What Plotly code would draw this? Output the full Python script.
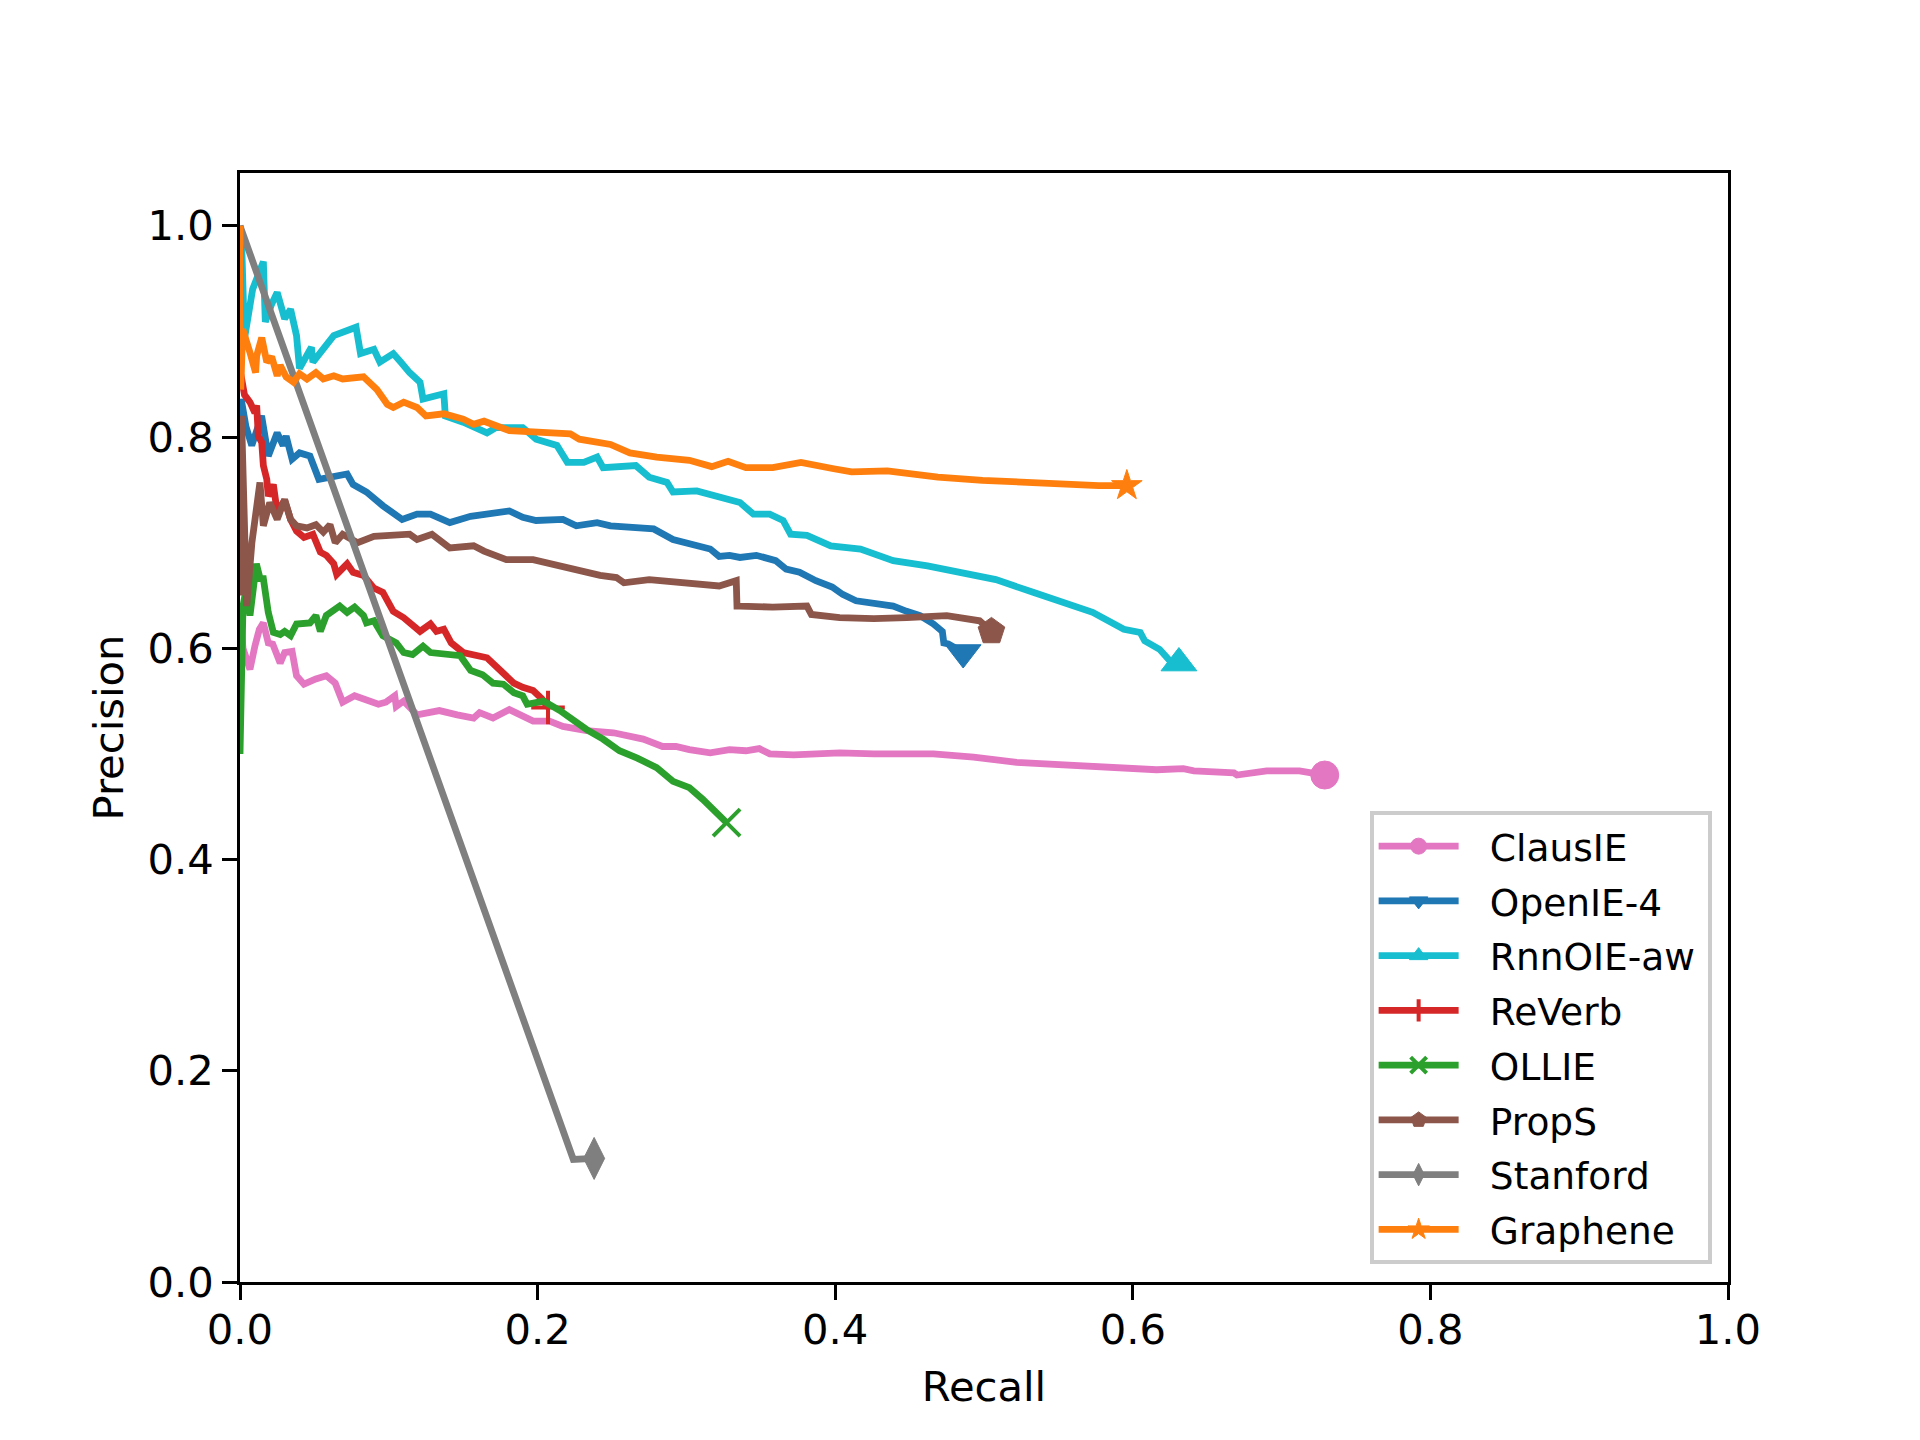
import plotly.graph_objects as go

# ---------------- data ----------------
series_names = ["ClausIE", "OpenIE-4", "RnnOIE-aw", "ReVerb", "OLLIE", "PropS", "Stanford", "Graphene"]

clausie_recall = [0.0, 0.0005, 0.002, 0.0045, 0.0067, 0.010, 0.013, 0.0157, 0.019, 0.022, 0.027, 0.030,
                  0.035, 0.038, 0.043, 0.051, 0.058, 0.064, 0.069, 0.077, 0.087, 0.093, 0.098, 0.104,
                  0.105, 0.110, 0.119, 0.134, 0.146, 0.157, 0.161, 0.170, 0.181, 0.197, 0.208, 0.217,
                  0.233, 0.251, 0.271, 0.284, 0.293, 0.302, 0.316, 0.329, 0.340, 0.349, 0.356, 0.372,
                  0.403, 0.426, 0.466, 0.493, 0.522, 0.549, 0.578, 0.582, 0.616, 0.634, 0.641, 0.668,
                  0.670, 0.690, 0.712, 0.729]
clausie_precision = [0.600, 0.628, 0.600, 0.590, 0.580, 0.602, 0.618, 0.624, 0.605, 0.604, 0.586, 0.596,
                     0.597, 0.574, 0.566, 0.571, 0.574, 0.567, 0.549, 0.555, 0.550, 0.547, 0.549, 0.555,
                     0.545, 0.550, 0.537, 0.541, 0.537, 0.534, 0.539, 0.534, 0.542, 0.531, 0.531, 0.526,
                     0.522, 0.520, 0.514, 0.507, 0.507, 0.504, 0.501, 0.504, 0.503, 0.505, 0.500, 0.499,
                     0.501, 0.500, 0.500, 0.497, 0.492, 0.490, 0.488, 0.487, 0.485, 0.486, 0.484, 0.482,
                     0.480, 0.484, 0.484, 0.480]

openie_recall = [0.0, 0.0008, 0.004, 0.0079, 0.0145, 0.019, 0.025, 0.029, 0.031, 0.035, 0.040, 0.047,
                 0.053, 0.0605, 0.072, 0.076, 0.085, 0.096, 0.109, 0.119, 0.128, 0.141, 0.155, 0.181,
                 0.190, 0.199, 0.217, 0.226, 0.240, 0.249, 0.278, 0.291, 0.316, 0.322, 0.329, 0.336,
                 0.347, 0.360, 0.367, 0.376, 0.387, 0.398, 0.405, 0.414, 0.426, 0.439, 0.448, 0.457,
                 0.466, 0.472, 0.473, 0.476, 0.486]
openie_precision = [0.800, 0.836, 0.810, 0.792, 0.820, 0.782, 0.804, 0.792, 0.801, 0.779, 0.785, 0.782,
                    0.760, 0.762, 0.765, 0.755, 0.748, 0.735, 0.722, 0.727, 0.727, 0.719, 0.725, 0.730,
                    0.724, 0.721, 0.722, 0.716, 0.719, 0.716, 0.713, 0.703, 0.694, 0.687, 0.688, 0.686,
                    0.688, 0.683, 0.675, 0.672, 0.664, 0.658, 0.651, 0.645, 0.642, 0.640, 0.635, 0.631,
                    0.623, 0.616, 0.605, 0.604, 0.596]

rnnoie_recall = [0.0, 0.001, 0.003, 0.0085, 0.0157, 0.017, 0.021, 0.025, 0.030, 0.034, 0.038, 0.040,
                 0.048, 0.049, 0.063, 0.072, 0.078, 0.081, 0.090, 0.094, 0.103, 0.108, 0.114, 0.121,
                 0.123, 0.137, 0.138, 0.150, 0.166, 0.172, 0.190, 0.199, 0.213, 0.220, 0.231, 0.240,
                 0.244, 0.266, 0.275, 0.287, 0.291, 0.307, 0.327, 0.336, 0.345, 0.356, 0.365, 0.370,
                 0.381, 0.397, 0.417, 0.426, 0.439, 0.462, 0.470, 0.493, 0.508, 0.533, 0.549, 0.560,
                 0.573, 0.594, 0.605, 0.608, 0.618, 0.625, 0.631]
rnnoie_precision = [1.000, 0.990, 0.893, 0.940, 0.966, 0.909, 0.925, 0.937, 0.912, 0.921, 0.896, 0.865,
                    0.885, 0.871, 0.896, 0.901, 0.904, 0.879, 0.883, 0.871, 0.879, 0.871, 0.861, 0.852,
                    0.836, 0.841, 0.820, 0.814, 0.804, 0.809, 0.809, 0.798, 0.792, 0.776, 0.776, 0.781,
                    0.771, 0.773, 0.762, 0.757, 0.748, 0.749, 0.741, 0.738, 0.727, 0.727, 0.721, 0.708,
                    0.707, 0.697, 0.694, 0.689, 0.683, 0.678, 0.676, 0.669, 0.665, 0.653, 0.645, 0.639,
                    0.634, 0.618, 0.615, 0.607, 0.599, 0.588, 0.586]

reverb_recall = [0.0, 0.0005, 0.003, 0.0067, 0.010, 0.0112, 0.0123, 0.0146, 0.0157, 0.018, 0.019, 0.0224,
                 0.025, 0.030, 0.034, 0.038, 0.043, 0.049, 0.054, 0.058, 0.063, 0.065, 0.072, 0.076,
                 0.083, 0.090, 0.096, 0.103, 0.110, 0.116, 0.121, 0.128, 0.132, 0.137, 0.142, 0.150,
                 0.159, 0.166, 0.172, 0.179, 0.184, 0.190, 0.197, 0.203, 0.207]
reverb_precision = [1.000, 0.860, 0.840, 0.833, 0.823, 0.830, 0.801, 0.795, 0.773, 0.760, 0.744, 0.755,
                    0.729, 0.740, 0.722, 0.711, 0.705, 0.708, 0.691, 0.688, 0.680, 0.670, 0.680, 0.672,
                    0.669, 0.657, 0.653, 0.635, 0.629, 0.621, 0.616, 0.623, 0.616, 0.618, 0.605, 0.596,
                    0.593, 0.591, 0.583, 0.574, 0.567, 0.563, 0.560, 0.552, 0.544]

ollie_recall = [0.0, 0.001, 0.002, 0.004, 0.0067, 0.011, 0.0135, 0.0157, 0.019, 0.0224, 0.027, 0.030,
                0.034, 0.038, 0.047, 0.051, 0.054, 0.058, 0.067, 0.072, 0.077, 0.083, 0.085, 0.090,
                0.096, 0.105, 0.110, 0.116, 0.123, 0.128, 0.137, 0.148, 0.155, 0.163, 0.170, 0.177,
                0.184, 0.190, 0.193, 0.204, 0.215, 0.226, 0.233, 0.244, 0.255, 0.267, 0.280, 0.291,
                0.302, 0.311, 0.320, 0.327]
ollie_precision = [0.500, 0.580, 0.640, 0.655, 0.631, 0.680, 0.666, 0.666, 0.634, 0.615, 0.613, 0.616,
                   0.612, 0.623, 0.624, 0.631, 0.616, 0.631, 0.640, 0.634, 0.639, 0.631, 0.624, 0.626,
                   0.612, 0.605, 0.596, 0.594, 0.602, 0.596, 0.594, 0.593, 0.579, 0.575, 0.567, 0.566,
                   0.558, 0.555, 0.547, 0.550, 0.541, 0.530, 0.523, 0.514, 0.503, 0.496, 0.487, 0.474,
                   0.468, 0.457, 0.444, 0.435]

props_recall = [0.0, 0.001, 0.0045, 0.008, 0.0134, 0.0157, 0.020, 0.025, 0.030, 0.034, 0.038, 0.045,
                0.051, 0.056, 0.0605, 0.064, 0.069, 0.079, 0.090, 0.114, 0.119, 0.129, 0.141, 0.157,
                0.164, 0.179, 0.197, 0.208, 0.224, 0.242, 0.253, 0.258, 0.275, 0.302, 0.322, 0.3335,
                0.334, 0.336, 0.358, 0.381, 0.384, 0.403, 0.426, 0.448, 0.475, 0.497, 0.505]
props_precision = [0.650, 0.820, 0.640, 0.700, 0.757, 0.716, 0.738, 0.722, 0.741, 0.722, 0.716, 0.714,
                   0.717, 0.710, 0.717, 0.700, 0.708, 0.700, 0.706, 0.708, 0.703, 0.708, 0.695, 0.697,
                   0.692, 0.684, 0.684, 0.680, 0.675, 0.669, 0.667, 0.662, 0.665, 0.661, 0.659, 0.664,
                   0.640, 0.640, 0.639, 0.640, 0.632, 0.629, 0.628, 0.629, 0.631, 0.626, 0.616]

stanford_recall = [0.0, 0.224, 0.238]
stanford_precision = [1.000, 0.116, 0.117]

graphene_recall = [0.0, 0.0005, 0.0018, 0.0045, 0.0067, 0.0105, 0.0112, 0.0146, 0.018, 0.0213, 0.025, 0.027,
                   0.031, 0.036, 0.040, 0.045, 0.051, 0.056, 0.063, 0.069, 0.083, 0.092, 0.099, 0.103,
                   0.110, 0.119, 0.125, 0.137, 0.150, 0.157, 0.164, 0.181, 0.222, 0.228, 0.249, 0.262,
                   0.280, 0.302, 0.317, 0.328, 0.340, 0.358, 0.377, 0.399, 0.411, 0.435, 0.469, 0.499,
                   0.525, 0.546, 0.577, 0.596]
graphene_precision = [1.000, 0.845, 0.902, 0.887, 0.880, 0.861, 0.877, 0.894, 0.871, 0.876, 0.858, 0.868,
                      0.857, 0.852, 0.860, 0.855, 0.861, 0.855, 0.858, 0.855, 0.857, 0.845, 0.831, 0.828,
                      0.833, 0.828, 0.820, 0.822, 0.817, 0.812, 0.815, 0.806, 0.803, 0.798, 0.793, 0.785,
                      0.781, 0.778, 0.772, 0.777, 0.771, 0.771, 0.776, 0.770, 0.767, 0.768, 0.762, 0.759,
                      0.757, 0.756, 0.754, 0.754]

x_ticks = [0.0, 0.2, 0.4, 0.6, 0.8, 1.0]
y_ticks = [0.0, 0.2, 0.4, 0.6, 0.8, 1.0]
tick_labels = ["0.0", "0.2", "0.4", "0.6", "0.8", "1.0"]

# ---------------- styling ----------------
recalls = [clausie_recall, openie_recall, rnnoie_recall, reverb_recall, ollie_recall,
           props_recall, stanford_recall, graphene_recall]
precisions = [clausie_precision, openie_precision, rnnoie_precision, reverb_precision, ollie_precision,
              props_precision, stanford_precision, graphene_precision]
colors = ["#e377c2", "#1f77b4", "#17becf", "#d62728", "#2ca02c", "#8c564b", "#7f7f7f", "#ff7f0e"]
symbols = ["circle", "triangle-down", "triangle-up", "cross-thin", "x-thin", "pentagon", "diamond-tall", "star"]
sizes = [28, 31, 31, 24, 27, 28, 30, 23]

FONT = "DejaVu Sans"
FS = 41.7
LEG_FS = 37.5
LW = 6.8
GAP_BEFORE = "\u2002\u2009"  # space between legend symbol and label
GAP_AFTER = "\u2009"

fig = go.Figure()
for name, xs, ys, c, sym, sz in zip(series_names, recalls, precisions, colors, symbols, sizes):
    fig.add_trace(go.Scatter(x=xs, y=ys, mode="lines", line=dict(color=c, width=LW),
                             showlegend=False, legendgroup=name, hoverinfo="skip"))
    thin = sym.endswith("-thin")
    fig.add_trace(go.Scatter(
        x=xs[-1:], y=ys[-1:], mode="lines+markers", name=GAP_BEFORE + name + GAP_AFTER,
        legendgroup=name,
        line=dict(color=c, width=LW),
        marker=dict(symbol=sym, size=sz, color=c,
                    line=dict(color=c, width=4 if thin else 1)),
    ))

axis_common = dict(
    showgrid=False, zeroline=False, showline=True, linecolor="black", linewidth=3.3,
    mirror=True, ticks="outside", ticklen=14.6, tickwidth=3.3, tickcolor="black",
    tickfont=dict(family=FONT, size=FS, color="black"),
)

fig.update_layout(
    width=1920, height=1440,
    margin=dict(l=240, r=192, t=173, b=158),
    paper_bgcolor="white", plot_bgcolor="white",
    font=dict(family=FONT, size=FS, color="black"),
    xaxis=dict(range=[0, 1], tickvals=x_ticks, ticktext=tick_labels, ticklabelstandoff=-6,
               title=dict(text="Recall", font=dict(family=FONT, size=FS), standoff=20),
               **axis_common),
    yaxis=dict(range=[0, 1.05], tickvals=y_ticks, ticktext=tick_labels,
               title=dict(text="Precision", font=dict(family=FONT, size=FS), standoff=12),
               **axis_common),
    legend=dict(x=0.989, y=0.016, xanchor="right", yanchor="bottom",
                bgcolor="rgba(255,255,255,0.8)", bordercolor="#cccccc", borderwidth=4,
                font=dict(family=FONT, size=LEG_FS, color="black"),
                itemwidth=80, tracegroupgap=3, itemsizing="trace"),
)

fig.write_html("out.html")
